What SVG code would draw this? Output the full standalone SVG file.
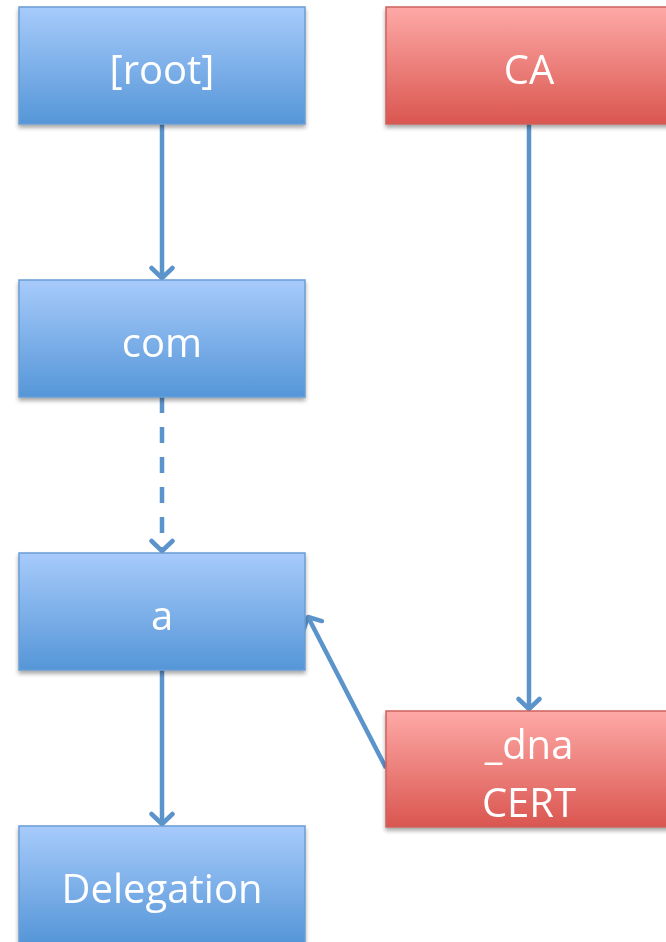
<svg xmlns="http://www.w3.org/2000/svg" width="666" height="942" viewBox="0 0 666 942">
  <defs>
    <linearGradient id="gBlue" x1="0" y1="0" x2="0" y2="1">
      <stop offset="0" stop-color="#a7cbfb"/>
      <stop offset="1" stop-color="#5596d8"/>
    </linearGradient>
    <linearGradient id="gRed" x1="0" y1="0" x2="0" y2="1">
      <stop offset="0" stop-color="#fea9a6"/>
      <stop offset="1" stop-color="#da5650"/>
    </linearGradient>
    <filter id="shadow" x="-10%" y="-10%" width="120%" height="130%">
      <feGaussianBlur in="SourceAlpha" stdDeviation="2"/>
      <feOffset dx="0" dy="3" result="b"/>
      <feComponentTransfer><feFuncA type="linear" slope="0.35"/></feComponentTransfer>
      <feMerge><feMergeNode/><feMergeNode in="SourceGraphic"/></feMerge>
    </filter>
    <!-- open chevron arrowhead, drawn in user units -->
    <marker id="arrow" viewBox="0 0 26 26" refX="13" refY="13" markerWidth="26" markerHeight="26" markerUnits="userSpaceOnUse" orient="auto">
      <path d="M3,2.5 L13,13 L3,23.5" fill="none" stroke="#5b93cb" stroke-width="4.5" stroke-linecap="round" stroke-linejoin="round"/>
    </marker>
  </defs>
  <style>
    .blue { fill: url(#gBlue); stroke: #6a9dd3; stroke-width: 1.5; }
    .red { fill: url(#gRed); stroke: #cd625d; stroke-width: 1.5; }
    .lbl { font-family: "Open Sans", "Liberation Sans", sans-serif; font-size: 40px; fill: #ffffff; text-anchor: middle; }
    .conn { fill: none; stroke: #5b93cb; stroke-width: 4.5; marker-end: url(#arrow); }
  </style>

  <g id="connectors">
    <line class="conn" x1="162" y1="124" x2="162" y2="278"/>
    <line class="conn" x1="162" y1="397" x2="162" y2="551" stroke-dasharray="16 14"/>
    <line class="conn" x1="162" y1="670" x2="162" y2="824"/>
    <line class="conn" x1="529" y1="124" x2="529" y2="709"/>
    <line class="conn" x1="386" y1="768" x2="308" y2="617"/>
  </g>

  <g id="node-root" filter="url(#shadow)">
    <rect class="blue" x="19" y="7" width="286" height="117"/>
    <text class="lbl" x="162" y="84">[root]</text>
  </g>
  <g id="node-com" filter="url(#shadow)">
    <rect class="blue" x="19" y="280" width="286" height="117"/>
    <text class="lbl" x="162" y="357">com</text>
  </g>
  <g id="node-a" filter="url(#shadow)">
    <rect class="blue" x="19" y="553" width="286" height="117"/>
    <text class="lbl" x="162" y="630">a</text>
  </g>
  <g id="node-delegation" filter="url(#shadow)">
    <rect class="blue" x="19" y="826" width="286" height="117"/>
    <text class="lbl" x="162" y="903">Delegation</text>
  </g>
  <g id="node-ca" filter="url(#shadow)">
    <rect class="red" x="386" y="7" width="286" height="117"/>
    <text class="lbl" x="529" y="84">CA</text>
  </g>
  <g id="node-dna-cert" filter="url(#shadow)">
    <rect class="red" x="386" y="711" width="286" height="116"/>
    <text class="lbl" x="529" y="759">_dna</text>
    <text class="lbl" x="529" y="817">CERT</text>
  </g>
</svg>
